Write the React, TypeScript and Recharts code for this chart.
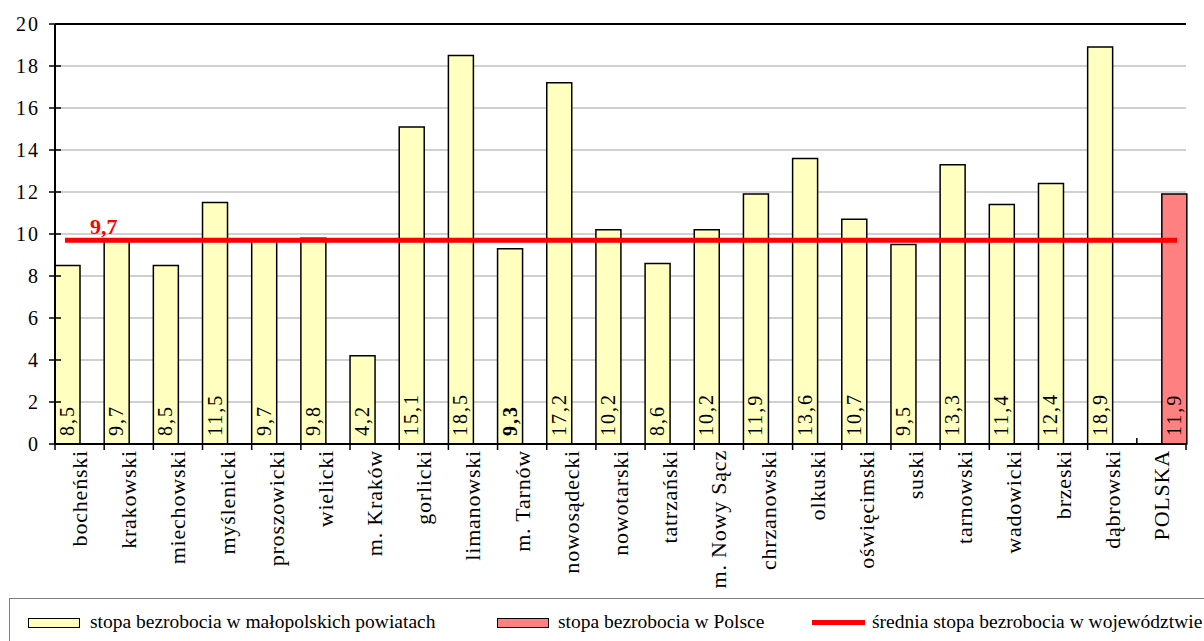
import { Bar, BarChart, CartesianGrid, LabelList, ReferenceLine, XAxis, YAxis } from "recharts";

const categories = [
  "bocheński", "krakowski", "miechowski", "myślenicki", "proszowicki", "wielicki", "m. Kraków",
  "gorlicki", "limanowski", "m. Tarnów", "nowosądecki", "nowotarski", "tatrzański", "m. Nowy Sącz",
  "chrzanowski", "olkuski", "oświęcimski", "suski", "tarnowski", "wadowicki", "brzeski", "dąbrowski",
  "POLSKA",
];
const powiatValues = [
  8.5, 9.7, 8.5, 11.5, 9.7, 9.8, 4.2, 15.1, 18.5, 9.3, 17.2, 10.2, 8.6, 10.2, 11.9, 13.6, 10.7, 9.5,
  13.3, 11.4, 12.4, 18.9, null,
];
const polskaValues = [
  null, null, null, null, null, null, null, null, null, null, null, null, null, null, null, null, null,
  null, null, null, null, null, 11.9,
];
const averageRate = 9.7;
const yTicks = [0, 2, 4, 6, 8, 10, 12, 14, 16, 18, 20];
const boldLabels = ["m. Tarnów"];

const data = categories.map((name, i) => ({ name, powiaty: powiatValues[i], polska: polskaValues[i] }));

const FONT = "'Liberation Serif', 'Times New Roman', serif";
const W = 1204;
const H = 641;
const M = { top: 24, right: 18, left: 10, bottom: 67 };
const Y_W = 45;
const PLOT_W = W - M.left - Y_W - M.right;
const BAND = PLOT_W / categories.length;
const TICK = 6;
const TICK_M = 2;

const fmt = (v: number) => String(v).replace(".", ",");

function XTick(props: any) {
  const { x, y, payload, index } = props;
  const axisY = y - TICK - TICK_M;
  const last = index === categories.length - 1;
  const px = x + 7.5;
  const py = axisY + 6;
  return (
    <g>
      <line x1={x - BAND / 2} x2={x - BAND / 2} y1={axisY} y2={last ? axisY - 6 : axisY + 6} stroke="#000" strokeWidth={1.5} />
      {last && <line x1={x + BAND / 2} x2={x + BAND / 2} y1={axisY} y2={axisY + 6} stroke="#000" strokeWidth={1.5} />}
      <text x={px} y={py} transform={`rotate(-90 ${px} ${py})`} textAnchor="end" fill="#000"
        style={{ fontFamily: FONT, fontSize: 22, letterSpacing: 0.8 }}>
        {payload.value}
      </text>
    </g>
  );
}

function YTick(props: any) {
  const { x, y, payload } = props;
  const axisX = x + 6 + 11;
  return (
    <g>
      <line x1={axisX - 6} x2={axisX + 6} y1={y} y2={y} stroke="#000" strokeWidth={1.5} />
      <text x={x + 2} y={y} dy="0.355em" textAnchor="end" fill="#000" style={{ fontFamily: FONT, fontSize: 20, letterSpacing: 2 }}>
        {payload.value}
      </text>
    </g>
  );
}

function ValueLabel(props: any) {
  const { x, y, width, height, value, index } = props;
  if (value == null) return null;
  const px = x + width / 2 + 6.5;
  const py = y + height - 8;
  const bold = boldLabels.includes(categories[index]);
  return (
    <text x={px} y={py} transform={`rotate(-90 ${px} ${py})`} textAnchor="start" fill="#000"
      style={{ fontFamily: FONT, fontSize: 20, letterSpacing: 2, fontWeight: bold ? "bold" : "normal" }}>
      {fmt(value)}
    </text>
  );
}

function AvgLine(props: any) {
  const { x1, y1, x2, y2 } = props;
  return (
    <g>
      <line x1={x1 + 10} x2={x2 - 9} y1={y1} y2={y2} stroke="#ff0000" strokeWidth={5} />
      <text x={x1 + 35} y={y1 - 6} fill="#ff0000" style={{ fontFamily: FONT, fontSize: 22, fontWeight: "bold" }}>
        {fmt(averageRate)}
      </text>
    </g>
  );
}

const legendText: React.CSSProperties = { position: "absolute", top: 611, fontSize: 19.5, fontFamily: FONT, whiteSpace: "nowrap", lineHeight: "22px" };

export default function App() {
  return (
    <div style={{ position: "absolute", left: 0, top: 0, width: W, height: H, background: "#fff", fontFamily: FONT }}>
      <BarChart width={W} height={H} data={data} margin={M} barGap={0} barCategoryGap={0} style={{ fontFamily: FONT }}>
        <CartesianGrid vertical={false} stroke="#c0c0c0" strokeWidth={1.5} />
        <XAxis dataKey="name" interval={0} height={130} tickSize={TICK} tickMargin={TICK_M} tickLine={false}
          tick={<XTick />} axisLine={{ stroke: "#000", strokeWidth: 2 }} />
        <YAxis domain={[0, 20]} ticks={yTicks} interval={0} width={Y_W} tickSize={6} tickMargin={11} tickLine={false}
          tick={<YTick />} axisLine={{ stroke: "#000", strokeWidth: 2 }} />
        <YAxis yAxisId="right" orientation="right" width={0} tick={false} tickLine={false} axisLine={{ stroke: "#000", strokeWidth: 2 }} />
        <ReferenceLine y={20} stroke="#000" strokeWidth={2} />
        <Bar dataKey="powiaty" fill="#ffffc0" stroke="#000" strokeWidth={1.5} isAnimationActive={false}>
          <LabelList dataKey="powiaty" content={<ValueLabel />} />
        </Bar>
        <Bar dataKey="polska" fill="#ff8080" stroke="#000" strokeWidth={1.5} isAnimationActive={false}>
          <LabelList dataKey="polska" content={<ValueLabel />} />
        </Bar>
        <ReferenceLine y={averageRate} shape={<AvgLine />} />
      </BarChart>
      <div style={{ position: "absolute", left: 9, top: 598, width: 1210, height: 60, border: "1px solid #808080" }} />
      <div style={{ position: "absolute", left: 28, top: 618, width: 50, height: 8, background: "#ffffc0", border: "1.5px solid #000" }} />
      <div style={{ ...legendText, left: 90 }}>stopa bezrobocia w małopolskich powiatach</div>
      <div style={{ position: "absolute", left: 497, top: 618, width: 50, height: 8, background: "#ff8080", border: "1.5px solid #000" }} />
      <div style={{ ...legendText, left: 558 }}>stopa bezrobocia w Polsce</div>
      <div style={{ position: "absolute", left: 812, top: 620, width: 53, height: 5, background: "#ff0000" }} />
      <div style={{ ...legendText, left: 872 }}>średnia stopa bezrobocia w województwie</div>
    </div>
  );
}
